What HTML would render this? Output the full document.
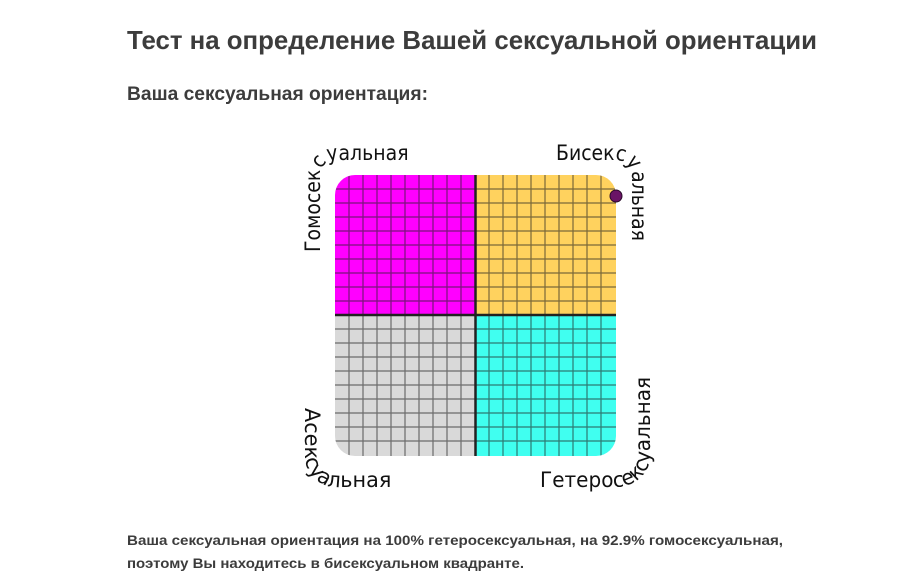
<!DOCTYPE html>
<html><head><meta charset="utf-8"><style>
html,body{margin:0;padding:0;background:#fff;}
svg{display:block;}
</style></head><body>
<svg width="915" height="584" xmlns="http://www.w3.org/2000/svg">
<defs>
<clipPath id="c"><rect x="335" y="175" width="281" height="281" rx="20"/></clipPath>
</defs>
<text x="127" y="49" font-family="Liberation Sans, sans-serif" font-weight="bold" font-size="26" fill="#3c3c3c" textLength="690" lengthAdjust="spacingAndGlyphs">Тест на определение Вашей сексуальной ориентации</text>
<text x="127" y="100" font-family="Liberation Sans, sans-serif" font-weight="bold" font-size="19" fill="#3c3c3c" textLength="301" lengthAdjust="spacingAndGlyphs">Ваша сексуальная ориентация:</text>
<g clip-path="url(#c)">
<rect x="335" y="175" width="140.5" height="140" fill="#ff00ff"/>
<rect x="475.5" y="175" width="140.5" height="140" fill="#ffd25e"/>
<rect x="335" y="315" width="140.5" height="141" fill="#d9d9d9"/>
<rect x="475.5" y="315" width="140.5" height="141" fill="#40fff0"/>
<path stroke="#222" stroke-opacity="0.6" stroke-width="1.2" fill="none" d="
M349 175V456M363 175V456M377 175V456M391 175V456M405 175V456M419 175V456M433 175V456M447 175V456M461 175V456
M489 175V456M503 175V456M517 175V456M531 175V456M545 175V456M559 175V456M573 175V456M587 175V456M601 175V456
M335 189H616M335 203H616M335 217H616M335 231H616M335 245H616M335 259H616M335 273H616M335 287H616M335 301H616
M335 329H616M335 343H616M335 357H616M335 371H616M335 385H616M335 399H616M335 413H616M335 427H616M335 441H616"/>
<path d="M475.5 175V456M335 315H616" stroke="#222" stroke-width="2.5"/>
</g>
<circle cx="616" cy="196" r="6" fill="#6a1466" stroke="#2a0a2a" stroke-width="1"/>
<g font-family="DejaVu Sans, sans-serif" font-size="21" fill="#111">
<path id="p1" d="M320 252 L320 175 A15 15 0 0 1 335 160 L420 160" fill="none"/>
<text><textPath href="#p1" textLength="174" lengthAdjust="spacingAndGlyphs">Гомосексуальная</textPath></text>
<path id="p2" d="M556 160 L616 160 A16 16 0 0 1 632 176 L632 260" fill="none"/>
<text><textPath href="#p2" textLength="150" lengthAdjust="spacingAndGlyphs">Бисексуальная</textPath></text>
<path id="p3" d="M305 408 L305 456 A31 31 0 0 0 336 487 L400 487" fill="none"/>
<text><textPath href="#p3" textLength="152" lengthAdjust="spacingAndGlyphs">Асексуальная</textPath></text>
<path id="p4" d="M540 487 L616 487 A34 31 0 0 0 650 456 L650 370" fill="none"/>
<text><textPath href="#p4" textLength="206" lengthAdjust="spacingAndGlyphs">Гетеросексуальная</textPath></text>
</g>
<g font-family="Liberation Sans, sans-serif" font-weight="bold" font-size="14" fill="#3c3c3c">
<text x="127" y="545" textLength="656" lengthAdjust="spacingAndGlyphs">Ваша сексуальная ориентация на 100% гетеросексуальная, на 92.9% гомосексуальная,</text>
<text x="127" y="568" textLength="397" lengthAdjust="spacingAndGlyphs">поэтому Вы находитесь в бисексуальном квадранте.</text>
</g>
</svg>
</body></html>
